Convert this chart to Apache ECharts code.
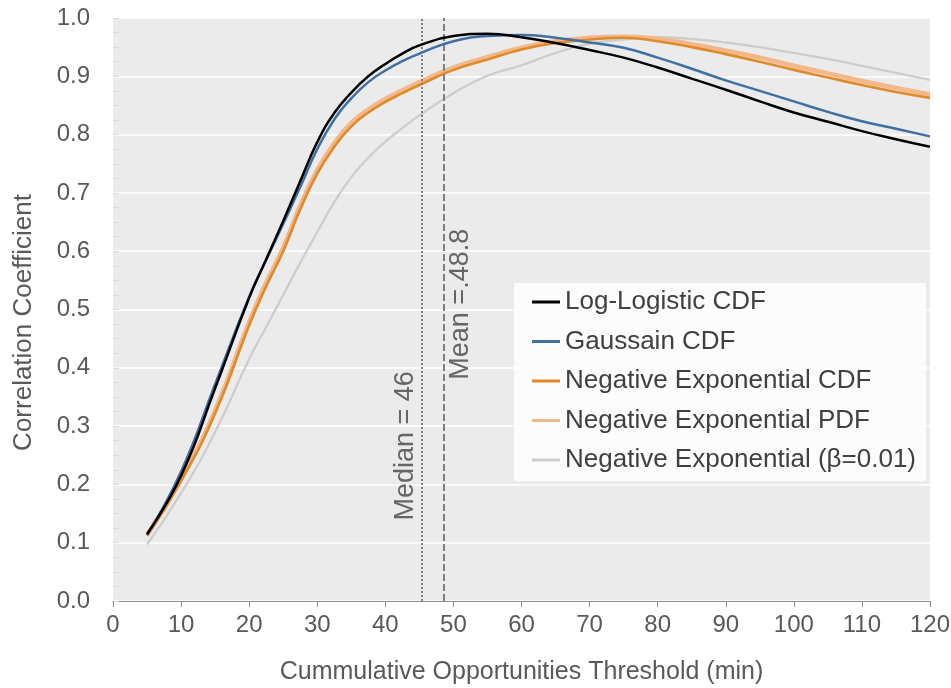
<!DOCTYPE html>
<html>
<head>
<meta charset="utf-8">
<script src="https://cdn.jsdelivr.net/npm/echarts@6/dist/echarts.min.js"></script>
<style>
html,body{margin:0;padding:0;background:#fff;}
#c{width:951px;height:688px;}
</style>
</head>
<body>
<div id="c"></div>
<script>
// ---- data ----
const thresholds = [5,10,15,20,22.5,25,27.5,30,32.5,35,37.5,40,42.5,45,50,55,60,65,70,75,80,85,90,95,100,105,110,115,120];
const logLogistic = [0.115,0.215,0.365,0.52,0.586,0.652,0.72,0.787,0.837,0.872,0.9,0.921,0.939,0.953,0.969,0.973,0.967,0.957,0.945,0.932,0.915,0.896,0.877,0.857,0.838,0.822,0.806,0.792,0.779];
const gaussian    = [0.113,0.222,0.372,0.522,0.585,0.647,0.71,0.775,0.826,0.862,0.89,0.91,0.926,0.939,0.96,0.969,0.971,0.966,0.958,0.949,0.932,0.913,0.893,0.875,0.857,0.839,0.823,0.81,0.797];
const negExpCDF   = [0.112,0.206,0.322,0.473,0.54,0.6,0.672,0.733,0.779,0.814,0.838,0.856,0.871,0.885,0.911,0.929,0.946,0.957,0.963,0.966,0.96,0.95,0.938,0.925,0.911,0.898,0.885,0.873,0.863];
const negExpPDF   = [0.113,0.209,0.327,0.479,0.546,0.606,0.678,0.739,0.785,0.82,0.843,0.861,0.876,0.89,0.915,0.933,0.949,0.96,0.966,0.968,0.964,0.955,0.944,0.932,0.918,0.905,0.892,0.88,0.869];
const negExpBeta  = [0.097,0.185,0.29,0.415,0.47,0.525,0.58,0.633,0.684,0.727,0.76,0.788,0.811,0.833,0.871,0.901,0.919,0.94,0.956,0.963,0.967,0.964,0.958,0.95,0.94,0.93,0.918,0.906,0.894];
const seriesNames = ['Log-Logistic CDF','Gaussain CDF','Negative Exponential CDF','Negative Exponential PDF','Negative Exponential (\u03b2=0.01)'];
const refLines  = [45.3, 48.6];
const refLabels = ['Median = 46', 'Mean =.48.8'];
const refLabelY = [0.266, 0.509];
const xTitle = 'Cummulative Opportunities Threshold (min)';
const yTitle = 'Correlation Coefficient';

// ---- chart ----
const FONT = '"Liberation Sans", Arial, sans-serif';
const chart = echarts.init(document.getElementById('c'), null, {renderer:'canvas'});
const pair = arr => thresholds.map((t,i)=>[t, arr[i]]);
const mk = (name, arr, color, width, z, extra) => Object.assign({
  name, type:'line', data: pair(arr), smooth: true, showSymbol:false, symbol:'none',
  lineStyle:{color, width}, itemStyle:{color}, z, silent:true
}, extra||{});

const option = {
  animation:false,
  backgroundColor:'#ffffff',
  grid:{left:113, right:21, top:18, bottom:87, show:true, backgroundColor:'#ebebeb', borderWidth:0,
        containLabel:false, outerBoundsMode:'none'},
  xAxis:{
    type:'value', min:0, max:120, interval:10,
    name:xTitle, nameLocation:'middle', nameGap:59,
    nameTextStyle:{fontFamily:FONT, fontSize:25, color:'#595959'},
    axisLine:{show:true, lineStyle:{color:'#8c8c8c', width:1.2}},
    axisTick:{show:true, length:6, lineStyle:{color:'#8c8c8c'}},
    axisLabel:{fontFamily:FONT, fontSize:24, color:'#595959', margin:12},
    splitLine:{show:false}
  },
  yAxis:{
    type:'value', min:0, max:1, interval:0.1,
    name:yTitle, nameLocation:'middle', nameGap:76,
    nameTextStyle:{fontFamily:FONT, fontSize:26, color:'#595959', padding:[0,26,0,0]},
    axisLine:{show:false},
    axisTick:{show:true, inside:true, length:6, lineStyle:{color:'#dadada'}},
    minorTick:{show:true, splitNumber:4, length:6, lineStyle:{color:'#dadada'}},
    axisLabel:{fontFamily:FONT, fontSize:24, color:'#595959', margin:23, formatter:v=>v.toFixed(1)},
    splitLine:{show:true, lineStyle:{color:'#ffffff', width:1.5}}
  },
  legend:{
    orient:'vertical', left:514, top:283,
    padding:[6,10,8,18], backgroundColor:'rgba(255,255,255,0.82)',
    icon:'rect', itemWidth:28, itemHeight:3, itemGap:13.5,
    textStyle:{fontFamily:FONT, fontSize:26, color:'#404040', lineHeight:26},
    data: seriesNames
  },
  series:[
    mk(seriesNames[0], logLogistic, '#000000', 2.5, 6),
    mk(seriesNames[1], gaussian, '#3f6fa3', 2.5, 5),
    mk(seriesNames[2], negExpCDF, '#e08a2a', 2.6, 4),
    mk(seriesNames[3], negExpPDF, '#f3b88a', 4.5, 3),
    mk(seriesNames[4], negExpBeta, '#cdcdcd', 2.3, 2, {
      markLine:{
        silent:true, symbol:['none','none'], label:{show:false},
        data:[
          {xAxis:refLines[0], lineStyle:{type:[2,2], color:'#7f7f7f', width:2}},
          {xAxis:refLines[1], lineStyle:{type:[7,3], color:'#7f7f7f', width:2}}
        ]
      }
    })
  ]
};
chart.setOption(option);

// rotated reference labels positioned via the chart's own scales
const offs = [-16, 17];
const graphics = refLines.map((x,i)=>{
  const p = chart.convertToPixel({gridIndex:0}, [x, refLabelY[i]]);
  return {
    type:'text', x:p[0]+offs[i], y:p[1], rotation:Math.PI/2, z:50, silent:true,
    style:{text:refLabels[i], fontFamily:FONT, fontSize:27, fill:'#666666', align:'center', verticalAlign:'middle'}
  };
});
chart.setOption({graphic:graphics});
</script>
</body>
</html>
